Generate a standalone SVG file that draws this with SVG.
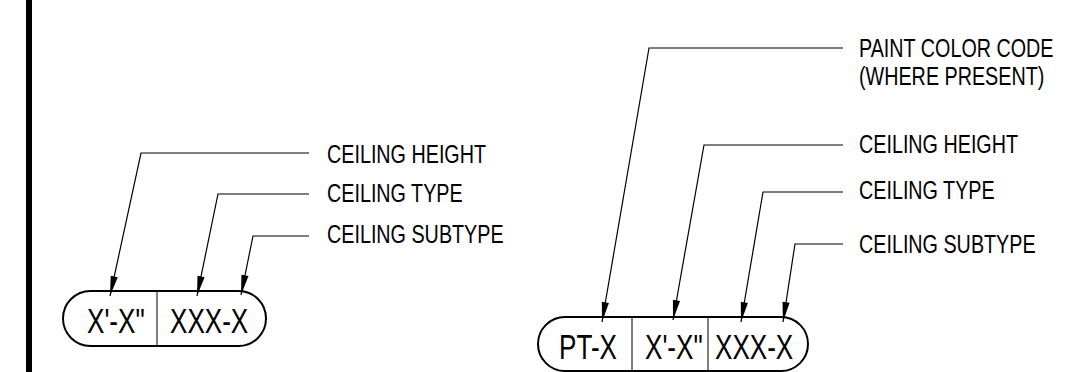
<svg xmlns="http://www.w3.org/2000/svg" width="1083" height="372" viewBox="0 0 1083 372">
<style>
.lbl{font-family:"Liberation Sans",Arial,sans-serif;font-size:25px;fill:#000}
.tag{font-family:"Liberation Sans",Arial,sans-serif;font-size:35px;fill:#000}
.pill{fill:#fff;stroke:#000;stroke-width:2}
.div{stroke:#000;stroke-width:1}
.ldr{fill:none;stroke:#000;stroke-width:1.2;marker-end:url(#arr)}
</style>
<defs>
<marker id="arr" markerUnits="userSpaceOnUse" markerWidth="24" markerHeight="10" viewBox="-21 -5 23 10" refX="0" refY="0" orient="auto">
<path d="M0,0 L-20,-3.6 L-20,3.6 Z" fill="#000"/>
</marker>
</defs>
<rect id="border" x="26" y="0" width="6" height="372" fill="#000"/>
<g id="tag-left">
<rect class="pill" x="63" y="291" width="203" height="55" rx="27.5"/>
<line class="div" x1="157" y1="291" x2="157" y2="346"/>
<text class="tag" transform="translate(87,333) scale(0.745,1)">X'-X"</text>
<text class="tag" transform="translate(170,333) scale(0.745,1)">XXX-X</text>
</g>
<g id="tag-right">
<rect class="pill" x="538" y="317" width="270" height="54" rx="27"/>
<line class="div" x1="632" y1="317" x2="632" y2="371"/>
<line class="div" x1="708" y1="317" x2="708" y2="371"/>
<text class="tag" transform="translate(559,359) scale(0.745,1)">PT-X</text>
<text class="tag" transform="translate(645,359) scale(0.745,1)">X'-X"</text>
<text class="tag" transform="translate(715,359) scale(0.745,1)">XXX-X</text>
</g>
<g id="labels-left">
<text class="lbl" transform="translate(327,163) scale(0.79,1)">CEILING HEIGHT</text>
<text class="lbl" transform="translate(327,202) scale(0.79,1)">CEILING TYPE</text>
<text class="lbl" transform="translate(327,243) scale(0.79,1)">CEILING SUBTYPE</text>
</g>
<g id="labels-right">
<text class="lbl" transform="translate(859,57) scale(0.79,1)">PAINT COLOR CODE</text>
<text class="lbl" transform="translate(859,85) scale(0.79,1)">(WHERE PRESENT)</text>
<text class="lbl" transform="translate(859,153) scale(0.79,1)">CEILING HEIGHT</text>
<text class="lbl" transform="translate(859,199) scale(0.79,1)">CEILING TYPE</text>
<text class="lbl" transform="translate(859,253) scale(0.79,1)">CEILING SUBTYPE</text>
</g>
<g id="connectors">
<polyline class="ldr" points="309,153 141,153 110,296"/>
<polyline class="ldr" points="309,194 218,194 197,296"/>
<polyline class="ldr" points="309,236 253,236 241,295"/>
<polyline class="ldr" points="843,48 649,48 602,322"/>
<polyline class="ldr" points="843,145 704,145 673,320"/>
<polyline class="ldr" points="843,192 763,192 741,322"/>
<polyline class="ldr" points="843,244 795,244 783,322"/>
</g>
</svg>
